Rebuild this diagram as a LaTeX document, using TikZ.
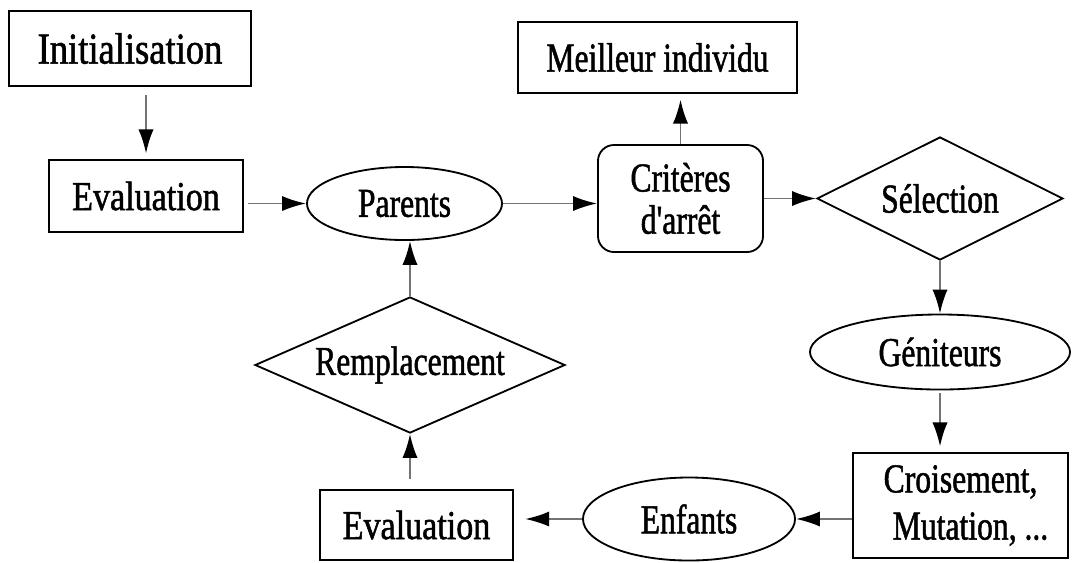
\documentclass[tikz,border=0pt]{standalone}
\usepackage{fontspec}
\setmainfont{Liberation Serif}[FakeStretch=0.77, FakeBold=1.2, Ligatures=TeXOff]
\newfontfamily\widefont{Liberation Serif}[FakeStretch=0.83, FakeBold=1.2, Ligatures=TeXOff]
\usetikzlibrary{shapes.geometric,arrows.meta}

\tikzset{
  txt/.style={font=\fontsize{29.2pt}{30pt}\selectfont, inner sep=0pt, align=center},
  box/.style={txt, draw=black, line width=1.3pt, rectangle},
  oval/.style={txt, draw=black, line width=1.3pt, ellipse},
  rhombus/.style={txt, draw=black, line width=1.3pt, diamond},
  roundbox/.style={txt, draw=black, line width=1.3pt, rectangle, rounded corners=0.4cm},
  conn/.style={draw=black!55, line width=1.4pt,
    -{Latex[length=0.6cm,width=0.38cm,color=black]}},
}

\begin{document}
\begin{tikzpicture}[x=0.025cm,y=-0.025cm]
  \useasboundingbox[fill=white] (0,0) rectangle (1076,562);

  % main chain of the algorithm
  \node[box, minimum width=6.05cm, minimum height=1.875cm,
        font=\widefont\fontsize{31.3pt}{32pt}\selectfont] (init) at (130,48.5) {Initialisation};
  \node[box, minimum width=4.85cm, minimum height=1.8cm,
        font=\widefont\fontsize{29.2pt}{30pt}\selectfont] (eval1) at (146,196) {Evaluation};
  \node[oval, minimum width=4.875cm, minimum height=1.825cm] (parents) at (404.5,203.5) {Parents};
  \node[box, minimum width=6.975cm, minimum height=1.775cm] (best) at (657.5,57.5) {Meilleur individu};
  \node[roundbox, minimum width=4.125cm, minimum height=2.675cm] (crit) at (680.5,198.5) {Critères\\d'arrêt};
  \node[rhombus, aspect=2, minimum width=6.15cm, minimum height=3.075cm] (sel) at (940,198.5) {Sélection};
  \node[oval, minimum width=6.5cm, minimum height=1.875cm] (genit) at (940,352) {Géniteurs};
  \node[box, minimum width=5.375cm, minimum height=2.625cm] (cross) at (960.5,505.5)
        {Croisement,\hspace{0.5cm}\\[3.5pt]\hspace{0.5cm}Mutation, ...};
  \node[oval, minimum width=5.3cm, minimum height=2.075cm] (kids) at (689,519) {Enfants};
  \node[box, minimum width=4.825cm, minimum height=1.75cm,
        font=\widefont\fontsize{29.2pt}{30pt}\selectfont] (eval2) at (416.5,525) {Evaluation};
  \node[rhombus, aspect=2.28, minimum width=7.75cm, minimum height=3.4cm] (repl) at (410,365) {Remplacement};

  % connectors
  \draw[conn, shorten <=6pt, shorten >=4pt] (init.south -| eval1.north) -- (eval1.north);
  \draw[conn, shorten <=3pt] (eval1.east |- parents.west) -- (parents.west);
  \draw[conn] (parents.east) -- (parents.east -| crit.west);
  \draw[conn, shorten >=4pt] (crit.north) -- (crit.north |- best.south);
  \draw[conn] (crit.east) -- (sel.west);
  \draw[conn] (sel.south) -- (genit.north);
  \draw[conn, shorten <=2pt, shorten >=4pt] (genit.south) -- (genit.south |- cross.north);
  \draw[conn] (cross.west |- kids.east) -- (kids.east);
  \draw[conn, shorten >=8pt] (kids.west) -- (kids.west -| eval2.east);
  \draw[conn, shorten <=7pt] (repl.south |- eval2.north) -- (repl.south);
  \draw[conn] (repl.north) -- (repl.north |- parents.south);
\end{tikzpicture}
\end{document}
